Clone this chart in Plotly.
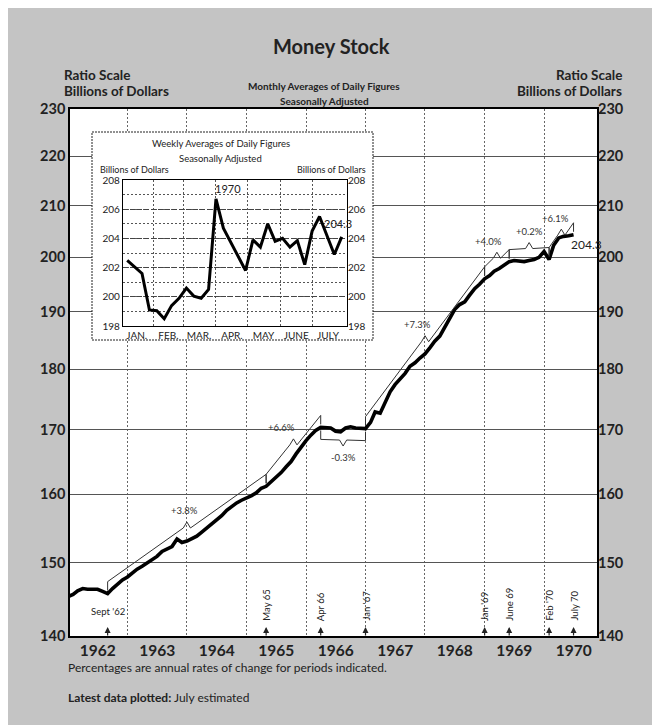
import math
import pandas as pd
import plotly.graph_objects as go

# ---------------- data ----------------
month_dates = [f"{y}-{m:02d}-01" for y in range(1962, 1971) for m in range(1, 13)][:103]
money_stock = [
    145.3, 145.6, 146.1, 146.4, 146.3, 146.3, 146.3, 146.0, 145.7, 146.4, 147.0, 147.6,
    148.0, 148.6, 149.1, 149.5, 150.0, 150.4, 150.9, 151.6, 151.9, 152.3, 153.4, 152.9,
    153.1, 153.5, 153.8, 154.4, 155.0, 155.6, 156.1, 156.8, 157.6, 158.2, 158.7, 159.1,
    159.4, 159.8, 160.2, 160.9, 161.2, 161.9, 162.6, 163.3, 164.2, 165.0, 166.2, 167.3,
    168.3, 169.2, 169.9, 170.4, 170.3, 170.3, 169.8, 169.7, 170.3, 170.5, 170.3, 170.2,
    170.2, 171.2, 172.9, 172.7, 174.5, 176.2, 177.4, 178.3, 179.3, 180.5, 181.1, 181.9,
    182.6, 183.7, 184.8, 185.7, 187.3, 188.9, 190.4, 191.3, 191.8, 193.0, 194.2, 195.0,
    196.0, 196.6, 197.4, 197.9, 198.6, 199.2, 199.4, 199.3, 199.2, 199.4, 199.6, 200.0,
    201.1, 199.6, 202.3, 203.7, 204.0, 204.1, 204.3,
]

weekly_dates = [
    "1970-01-07", "1970-01-21", "1970-01-28", "1970-02-04", "1970-02-11", "1970-02-18",
    "1970-02-25", "1970-03-04", "1970-03-11", "1970-03-18", "1970-03-25", "1970-04-01",
    "1970-04-08", "1970-04-29", "1970-05-06", "1970-05-13", "1970-05-20", "1970-05-27",
    "1970-06-03", "1970-06-10", "1970-06-17", "1970-06-24", "1970-07-01", "1970-07-08",
    "1970-07-22", "1970-07-29",
]
weekly_values = [
    202.5, 201.6, 199.1, 199.05, 198.5, 199.4,
    199.9, 200.6, 200.05, 199.9, 200.5, 206.7,
    204.7, 201.8, 203.9, 203.4, 205.0, 203.8,
    204.0, 203.4, 203.85, 202.2, 204.5, 205.5,
    202.9, 204.1,
]

marker_dates = ["1962-09-01", "1965-05-01", "1966-04-01", "1967-01-01",
                "1969-01-01", "1969-06-01", "1970-02-01", "1970-07-01"]
marker_labels = ["Sept '62", "May 65", "Apr 66", "Jan '67",
                 "Jan '69", "June 69", "Feb '70", "July 70"]
rate_labels = ["+3.8%", "+6.6%", "-0.3%", "+7.3%", "+4.0%", "+0.2%", "+6.1%"]

main_ticks = [140, 150, 160, 170, 180, 190, 200, 210, 220, 230]
inset_ticks = [198, 200, 202, 204, 206, 208]
inset_months = ["JAN.", "FEB.", "MAR.", "APR.", "MAY", "JUNE", "JULY"]
inset_month_mid = ["1970-01-16", "1970-02-15", "1970-03-16", "1970-04-16",
                   "1970-05-16", "1970-06-16", "1970-07-16"]
inset_month_start = ["1970-02-01", "1970-03-01", "1970-04-01", "1970-05-01",
                     "1970-06-01", "1970-07-01"]

# ---------------- layout helpers (coordinates in page pixels) ----------------
OFF = 8                      # page offset of the figure (body margin)
W, H = 660 - OFF, 725 - OFF
L, R, T, B = 70, 597, 109, 636
PW, PH = R - L, B - T
FONT = "Lato"
PX_PER_DECADE = PH / (math.log10(230) - math.log10(140))


def px(x):
    return (x - L) / PW


def py(y):
    return (B - y) / PH


def shift(v, pixels):
    return v * 10 ** (pixels / PX_PER_DECADE)


fig = go.Figure()

# main series
fig.add_trace(go.Scatter(x=month_dates, y=money_stock, mode="lines",
                         line=dict(color="black", width=3.6), hoverinfo="skip",
                         showlegend=False))
# invisible trace for right axis
fig.add_trace(go.Scatter(x=month_dates, y=money_stock, mode="lines", yaxis="y2",
                         line=dict(width=0), opacity=0, hoverinfo="skip", showlegend=False))

# braces between markers
val = dict(zip(month_dates, money_stock))
for i, lab in enumerate(rate_labels):
    d0, d1 = pd.Timestamp(marker_dates[i]), pd.Timestamp(marker_dates[i + 1])
    v0, v1 = val[marker_dates[i]], val[marker_dates[i + 1]]
    side = -1 if lab.startswith("-") else 1
    off = 12 * side
    dm = d0 + (d1 - d0) / 2
    vm = math.sqrt(v0 * v1)
    eps = pd.Timedelta(days=22)
    xs = [d0, d0, dm - eps, dm, dm + eps, d1, d1]
    ys = [shift(v0, 3 * side), shift(v0, off), shift(vm, off), shift(vm, off + 6 * side),
          shift(vm, off), shift(v1, off), shift(v1, 3 * side)]
    fig.add_trace(go.Scatter(x=xs, y=ys, mode="lines", line=dict(color="#333", width=1),
                             hoverinfo="skip", showlegend=False))
    fig.add_annotation(x=dm, y=math.log10(shift(vm, off + 6 * side)), xref="x", yref="y",
                       text=lab, showarrow=False, yshift=11 * side,
                       xshift=[-2, -12, 0, -8, -8, 0, -6][i],
                       font=dict(family=FONT, size=9.5, color="#333"))

# inset frame subplot (white background) and inset chart
fig.add_trace(go.Scatter(x=[0], y=[0], xaxis="x3", yaxis="y3", mode="markers",
                         opacity=0, hoverinfo="skip", showlegend=False))
fig.add_trace(go.Scatter(x=weekly_dates, y=weekly_values, xaxis="x4", yaxis="y4",
                         mode="lines", line=dict(color="black", width=3),
                         hoverinfo="skip", showlegend=False))
fig.add_trace(go.Scatter(x=weekly_dates, y=weekly_values, xaxis="x4", yaxis="y5",
                         mode="lines", line=dict(width=0), opacity=0,
                         hoverinfo="skip", showlegend=False))

tickfont_main = dict(family=FONT, size=14.5, color="#222", weight="bold")
small = dict(family=FONT, size=10, color="#222")
fig.update_layout(
    width=W, height=H,
    margin=dict(l=L - OFF, r=W - (R - OFF), t=T - OFF, b=H - (B - OFF)),
    paper_bgcolor="#c4c4c4",
    plot_bgcolor="white",
    showlegend=False,
    xaxis=dict(type="date", range=["1962-01-13", "1970-11-22"],
               dtick="M12", tick0="1962-01-01", ticklabelmode="period",
               tickformat="%Y", ticks="", showgrid=True, gridcolor="#666",
               griddash="2px,2px", gridwidth=1, showline=True, linecolor="black",
               linewidth=1.5, mirror=True,
               tickfont=dict(family=FONT, size=15.5, color="#222", weight="bold"),
               zeroline=False),
    yaxis=dict(type="log", range=[math.log10(140), math.log10(230)],
               tickvals=main_ticks, ticktext=[str(t) for t in main_ticks],
               ticks="", showgrid=True, gridcolor="#555", gridwidth=1,
               showline=True, linecolor="black", linewidth=1.5, mirror=True,
               tickfont=tickfont_main, zeroline=False),
    yaxis2=dict(type="log", range=[math.log10(140), math.log10(230)], overlaying="y",
                side="right", anchor="x", tickvals=main_ticks,
                ticktext=[str(t) for t in main_ticks], ticks="", showgrid=False,
                tickfont=tickfont_main, zeroline=False),
    xaxis3=dict(domain=[px(92), px(373)], anchor="y3", visible=False, range=[0, 1]),
    yaxis3=dict(domain=[py(340), py(132)], anchor="x3", visible=False, range=[0, 1]),
    xaxis4=dict(domain=[px(123), px(347)], anchor="y4", type="date",
                range=["1970-01-03", "1970-08-03"], tickvals=inset_month_mid,
                ticktext=inset_months, ticks="", showgrid=False,
                minor=dict(tickvals=inset_month_start, showgrid=True, gridcolor="#555",
                           griddash="2px,2px", gridwidth=1),
                showline=True, linecolor="black", linewidth=1, mirror=True,
                tickfont=small, zeroline=False),
    yaxis4=dict(domain=[py(326), py(180)], anchor="x4", range=[198, 208],
                tickvals=inset_ticks, ticks="", showgrid=True, gridcolor="#444",
                griddash="5px,2px", gridwidth=1,
                minor=dict(dtick=1, showgrid=True, gridcolor="#555", griddash="2px,2px"),
                showline=True, linecolor="black", linewidth=1.2, mirror=True,
                tickfont=small, zeroline=False),
    yaxis5=dict(overlaying="y4", side="right", anchor="x4", range=[198, 208],
                tickvals=inset_ticks, ticks="", showgrid=False,
                tickfont=small, zeroline=False),
)

# inset frame border
fig.add_shape(type="rect", xref="paper", yref="paper", x0=px(92), x1=px(373),
              y0=py(340), y1=py(132), line=dict(color="#222", width=1, dash="2px,1px"),
              layer="above")


def text(x, y, s, size, anchor="center", bold=False, color="#222"):
    fig.add_annotation(x=px(x), y=py(y), xref="paper", yref="paper", text=s,
                       showarrow=False, xanchor=anchor, yanchor="middle",
                       font=dict(family=FONT, size=size, color=color,
                                 weight="bold" if bold else "normal"))


text(331, 46, "Money Stock", 20, bold=True)
text(62, 75, "Ratio Scale", 13.5, "left", bold=True)
text(62, 91, "Billions of Dollars", 13.5, "left", bold=True)
text(624, 75, "Ratio Scale", 13.5, "right", bold=True)
text(624, 91, "Billions of Dollars", 13.5, "right", bold=True)
text(324, 86, "Monthly Averages of Daily Figures", 10, bold=True)
text(324, 101, "Seasonally Adjusted", 10, bold=True)
text(66, 667, "Percentages are annual rates of change for periods indicated.", 12, "left")
text(66, 697, "<b>Latest data plotted:</b> July estimated", 12, "left")

# inset texts
text(221, 143, "Weekly Averages of Daily Figures", 9.5)
text(220, 158, "Seasonally Adjusted", 9.5)
text(98, 169, "Billions of Dollars", 9, "left")
text(368, 169, "Billions of Dollars", 9, "right")
fig.add_annotation(x="1970-04-12", y=207.45, xref="x4", yref="y4", text="1970",
                   showarrow=False, font=dict(family=FONT, size=11, color="#222"))
fig.add_annotation(x=weekly_dates[-1], y=weekly_values[-1], xref="x4", yref="y4",
                   text=f"{204.3:.1f}", showarrow=False, yshift=13, xshift=-4,
                   font=dict(family=FONT, size=11, color="#222"))

# end label of main line
fig.add_annotation(x=month_dates[102], y=math.log10(money_stock[102]), xref="x", yref="y",
                   text=f"{money_stock[102]:.1f}", showarrow=False, xanchor="left",
                   xshift=-5, yshift=-10, font=dict(family=FONT, size=12, color="#222"))

# period markers at the bottom
for d, lab in zip(marker_dates, marker_labels):
    fig.add_annotation(x=d, y=py(627), xref="x", yref="paper", text="", showarrow=True,
                       ax=0, ay=10, arrowhead=2, arrowsize=1, arrowwidth=1.2,
                       arrowcolor="#222")
    if lab.startswith("Sept"):
        fig.add_annotation(x=d, y=py(619), xref="x", yref="paper", text=lab,
                           showarrow=False, font=dict(family=FONT, size=9.5, color="#222"))
    else:
        fig.add_annotation(x=d, y=py(623), xref="x", yref="paper", text=lab,
                           showarrow=False, textangle=-90, yanchor="bottom",
                           font=dict(family=FONT, size=9.5, color="#222"))

fig.write_html("out.html")
